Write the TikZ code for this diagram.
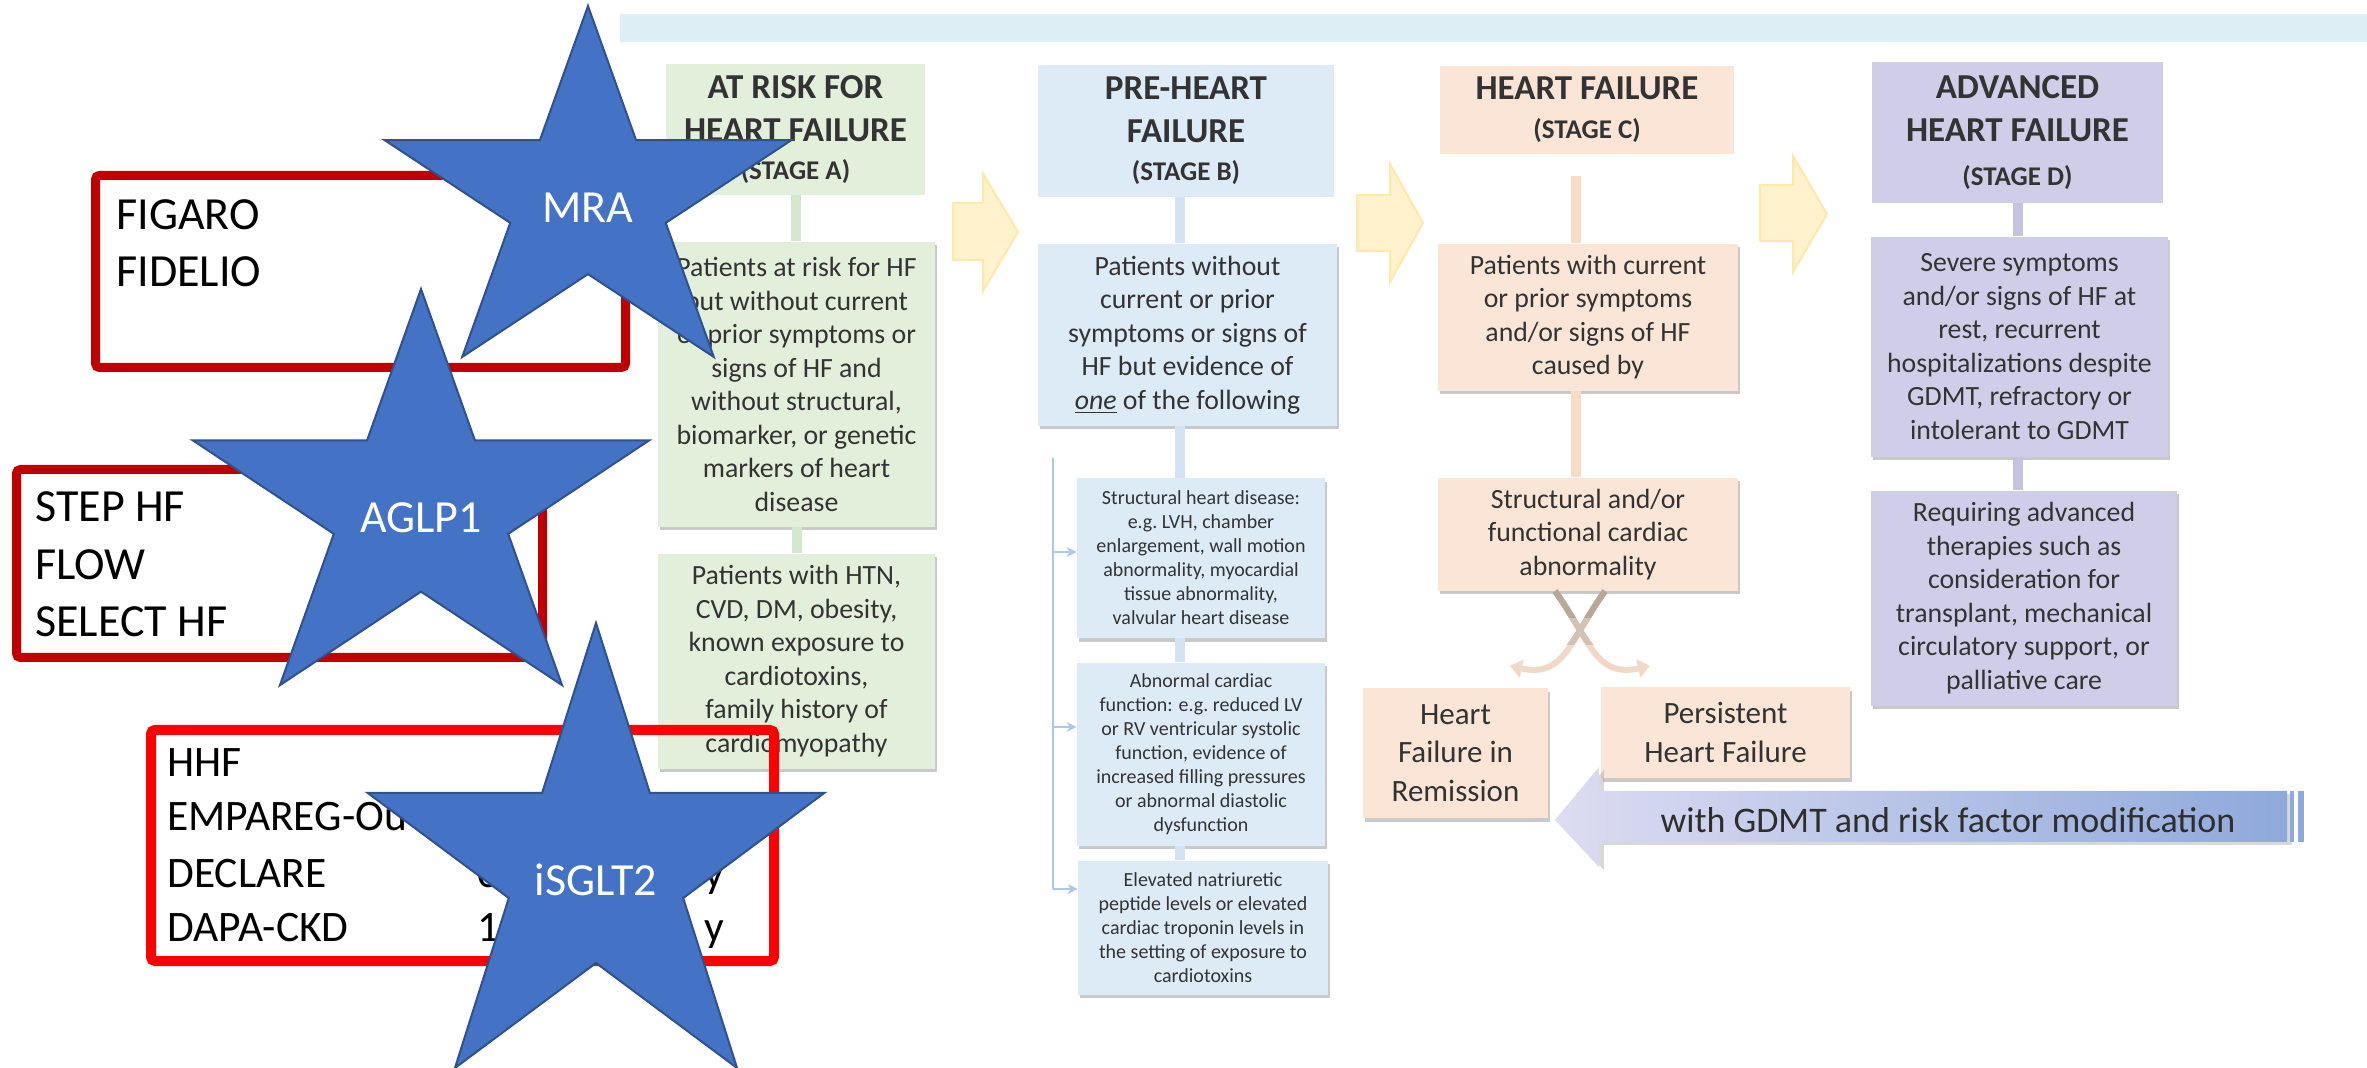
\documentclass[tikz,border=0pt]{standalone}
\usepackage{fontspec}
\setmainfont{Carlito}
\usepackage{tikz}
\usetikzlibrary{arrows.meta,positioning,shadows}

\definecolor{starfill}{HTML}{4472C4}
\definecolor{stardraw}{HTML}{2F528F}
\definecolor{darkred}{HTML}{C00000}
\definecolor{brightred}{HTML}{FF0000}
\definecolor{barcyan}{HTML}{DDEFF4}
\definecolor{greenA}{HTML}{E2EFDA}
\definecolor{blueB}{HTML}{DDEBF7}
\definecolor{peachC}{HTML}{FBE5D6}
\definecolor{lilacD}{HTML}{D0CDE9}
\definecolor{greenlink}{HTML}{D6E8CC}
\definecolor{bluelink}{HTML}{D2E4F4}
\definecolor{peachlink}{HTML}{F8DCC8}
\definecolor{lilaclink}{HTML}{C6C2E2}
\definecolor{railblue}{HTML}{ADC9EA}
\definecolor{yellowfill}{HTML}{FFF2CC}
\definecolor{yellowdraw}{HTML}{FFE9A8}
\definecolor{splitlight}{HTML}{F2D8C6}
\definecolor{splitmid}{HTML}{D4C1B1}
\definecolor{splitdark}{HTML}{B9A798}
\definecolor{gdmtpale}{HTML}{DDDCF1}
\definecolor{gdmtblue}{HTML}{8EA9DB}
\definecolor{bodygrey}{HTML}{333333}

\begin{document}
\begin{tikzpicture}[x=0.5pt,y=0.5pt,>=Stealth]
\tikzstyle{stagehead}=[rectangle,inner sep=0pt,align=flush center,text=bodygrey,font=\bfseries\fontsize{17.5}{21.5}\selectfont]
\tikzstyle{stagebox}=[rectangle,inner sep=0pt,align=flush center,text=bodygrey,font=\fontsize{13.9}{16.75}\selectfont,
  drop shadow={shadow xshift=1.2pt,shadow yshift=-1.8pt,opacity=0.35,fill=black!60}]
\tikzstyle{smallbox}=[stagebox,font=\fontsize{10}{12}\selectfont]
\tikzstyle{outcomebox}=[stagebox,font=\fontsize{15.5}{19.25}\selectfont]
\tikzstyle{stagelink}=[line width=5pt]
\tikzstyle{stagearrow}=[fill=yellowfill,draw=yellowdraw,line width=1pt]
\tikzstyle{rail}=[draw=railblue,line width=1pt]
\tikzstyle{railarrow}=[draw=railblue,line width=1pt,-{Stealth[length=5pt,width=5pt]}]
\tikzstyle{splitlink}=[line width=3pt]
\tikzstyle{gdmtarrow}=[left color=gdmtpale,right color=gdmtblue,drop shadow={shadow yshift=-1.5pt,opacity=0.3}]
\tikzstyle{gdmttext}=[inner sep=0pt,text=bodygrey!90!black,font=\fontsize{18}{22}\selectfont]
\tikzstyle{trialbox}=[rectangle,rounded corners=2pt,inner sep=0pt]
\tikzstyle{trialtext}=[anchor=base west,inner sep=0pt,font=\fontsize{23}{28}\selectfont]
\tikzstyle{hhftext}=[anchor=base west,inner sep=0pt,font=\fontsize{21.75}{27}\selectfont]
\tikzstyle{drugstar}=[fill=starfill,draw=stardraw,line width=1pt,line join=miter]
\tikzstyle{druglabel}=[anchor=base,inner sep=0pt,text=white,font=\fontsize{23}{28}\selectfont]

\useasboundingbox (0,0) rectangle (2367,-1068);
\fill[white] (0,0) rectangle (2367,-1068);

% top band
\fill[barcyan] (620,-14) rectangle (2367,-42);

% arrows between the stages
\draw[stagearrow] (953,-203) -- (983,-203) -- (983,-174) -- (1018,-232) -- (983,-291) -- (983,-260) -- (953,-260) -- cycle;
\draw[stagearrow] (1357,-195) -- (1390,-195) -- (1390,-164) -- (1423,-223) -- (1390,-282) -- (1390,-251) -- (1357,-251) -- cycle;
\draw[stagearrow] (1760,-185) -- (1793,-185) -- (1793,-156) -- (1827,-214) -- (1793,-272) -- (1793,-241) -- (1760,-241) -- cycle;

% stage A
\node[stagehead,fill=greenA,text width=129.5pt,minimum height=65.5pt] (hdrA) at (795.5,-129.5)
  {AT RISK FOR\\HEART FAILURE\\[-2.5pt]{\fontsize{13.5}{16}\selectfont (STAGE A)}};
\node[stagebox,fill=greenA,text width=138.5pt,minimum height=142.5pt,below=23pt of hdrA,xshift=0.5pt] (boxA1)
  {Patients at risk for HF\\but without current\\or prior symptoms or\\signs of HF and\\without structural,\\biomarker, or genetic\\markers of heart\\disease};
\node[stagebox,fill=greenA,text width=138.5pt,minimum height=107.5pt,below=13pt of boxA1] (boxA2)
  {Patients with HTN,\\CVD, DM, obesity,\\known exposure to\\cardiotoxins,\\family history of\\cardiomyopathy};
\draw[stagelink,greenlink] (hdrA.south) -- (hdrA.south |- boxA1.north);
\draw[stagelink,greenlink] (boxA1.south) -- (boxA1.south |- boxA2.north);

% stage B
\node[stagehead,fill=blueB,text width=148pt,minimum height=66pt] (hdrB) at (1186,-131)
  {PRE-HEART\\FAILURE\\[-2.5pt]{\fontsize{13.5}{16}\selectfont (STAGE B)}};
\node[stagebox,fill=blueB,text width=149.5pt,minimum height=91pt,below=23pt of hdrB,xshift=0.75pt] (boxB)
  {Patients without\\current or prior\\symptoms or signs of\\HF but evidence of\\\underline{\textit{one}} of the following};
\node[smallbox,fill=blueB,text width=124pt,minimum height=80pt] (subB1) at (1201,-558)
  {Structural heart disease:\\e.g.\ LVH, chamber\\enlargement, wall motion\\abnormality, myocardial\\tissue abnormality,\\valvular heart disease};
\node[smallbox,fill=blueB,text width=124pt,minimum height=91.5pt,below=12pt of subB1] (subB2)
  {Abnormal cardiac\\function: e.g.\ reduced LV\\or RV ventricular systolic\\function, evidence of\\increased filling pressures\\or abnormal diastolic\\dysfunction};
\node[smallbox,fill=blueB,text width=125pt,minimum height=67pt,below=7pt of subB2,xshift=1pt] (subB3)
  {Elevated natriuretic\\peptide levels or elevated\\cardiac troponin levels in\\the setting of exposure to\\cardiotoxins};
\coordinate (spineB) at (1180,0);
\draw[stagelink,bluelink] (spineB |- hdrB.south) -- (spineB |- boxB.north);
\draw[stagelink,bluelink] (spineB |- boxB.south) -- (spineB |- subB1.north);
\draw[stagelink,bluelink] (spineB |- subB1.south) -- (spineB |- subB2.north);
\draw[stagelink,bluelink] (spineB |- subB2.south) -- (spineB |- subB3.north);
\coordinate (railtop) at (1053,-458);
\coordinate (rail1) at (1053,-552);
\coordinate (rail2) at (1053,-727);
\coordinate (rail3) at (1053,-889);
\draw[rail] (railtop) -- (rail3);
\draw[railarrow] (rail1) -- (rail1 -| subB1.west);
\draw[railarrow] (rail2) -- (rail2 -| subB2.west);
\draw[railarrow] (rail3) -- (rail3 -| subB3.west);

% stage C
\node[stagehead,fill=peachC,text width=147pt,minimum height=44pt] (hdrC) at (1587,-110)
  {HEART FAILURE\\[-2pt]{\fontsize{13.5}{16}\selectfont (STAGE C)}};
\node[stagebox,fill=peachC,text width=150pt,minimum height=73.5pt,below=44.5pt of hdrC,xshift=0.5pt] (boxC1)
  {Patients with current\\or prior symptoms\\and/or signs of HF\\caused by};
\node[stagebox,fill=peachC,text width=150pt,minimum height=56.5pt,below=43pt of boxC1] (boxC2)
  {Structural and/or\\functional cardiac\\abnormality};
\node[outcomebox,fill=peachC,text width=92.5pt,minimum height=65pt] (remis) at (1455.5,-753)
  {Heart\\Failure in\\Remission};
\node[outcomebox,fill=peachC,text width=124.5pt,minimum height=45.5pt] (persist) at (1725.5,-732.5)
  {Persistent\\Heart Failure};
\coordinate (linkCtop) at (1576,-176);
\coordinate (spineC) at (1576,0);
\draw[stagelink,peachlink] (linkCtop) -- (spineC |- boxC1.north);
\draw[stagelink,peachlink] (spineC |- boxC1.south) -- (spineC |- boxC2.north);
% split into the two outcomes
\coordinate (remisTip) at (1510,-666);
\coordinate (persistTip) at (1650,-666);
\draw[splitlink,splitlight,-{Triangle[width=9pt,length=6pt]}] ([xshift=8.5pt]boxC2.south) .. controls (1570,-640) and (1565,-678) .. (remisTip);
\draw[splitlink,splitlight,-{Triangle[width=9pt,length=6pt]}] ([xshift=-16.5pt]boxC2.south) .. controls (1590,-640) and (1595,-678) .. (persistTip);
\begin{scope}
\clip (1500,-585) rectangle (1660,-645);
\draw[splitlink,splitmid] ([xshift=8.5pt]boxC2.south) .. controls (1570,-640) and (1565,-678) .. (remisTip);
\draw[splitlink,splitmid] ([xshift=-16.5pt]boxC2.south) .. controls (1590,-640) and (1595,-678) .. (persistTip);
\clip (1500,-585) rectangle (1660,-618);
\draw[splitlink,splitdark] ([xshift=8.5pt]boxC2.south) .. controls (1570,-640) and (1565,-678) .. (remisTip);
\draw[splitlink,splitdark] ([xshift=-16.5pt]boxC2.south) .. controls (1590,-640) and (1595,-678) .. (persistTip);
\end{scope}

% stage D
\node[stagehead,fill=lilacD,text width=145.5pt,minimum height=70.5pt] (hdrD) at (2017.5,-132.5)
  {ADVANCED\\HEART FAILURE\\[0.5pt]{\fontsize{13.5}{16}\selectfont (STAGE D)}};
\node[stagebox,fill=lilacD,text width=148.5pt,minimum height=110pt,below=16.5pt of hdrD,xshift=1pt] (boxD1)
  {Severe symptoms\\and/or signs of HF at\\rest, recurrent\\hospitalizations despite\\GDMT, refractory or\\intolerant to GDMT};
\node[stagebox,fill=lilacD,text width=153pt,minimum height=107.5pt,below=16.5pt of boxD1,xshift=2.25pt] (boxD2)
  {Requiring advanced\\therapies such as\\consideration for\\transplant, mechanical\\circulatory support, or\\palliative care};
\draw[stagelink,lilaclink] (hdrD.south) -- (hdrD.south |- boxD1.north);
\draw[stagelink,lilaclink] (hdrD.south |- boxD1.south) -- (hdrD.south |- boxD2.north);

% back arrow with GDMT (striped tail)
\path[gdmtarrow] (1555,-820) -- (1599,-767) -- (1599,-791) -- (2287,-791) -- (2287,-842) -- (1599,-842) -- (1599,-867) -- cycle;
\fill[gdmtblue] (2290,-791) rectangle (2294,-842);
\fill[gdmtblue] (2298,-791) rectangle (2304,-842);
\node[gdmttext] (gdmt) at (1948,-820) {with GDMT and risk factor modification};

% trial boxes
\node[trialbox,draw=darkred,line width=4.5pt,minimum width=265pt,minimum height=96pt] (figbox) at (360.5,-271.5) {};
\node[trialbox,draw=darkred,line width=4.5pt,minimum width=263pt,minimum height=94pt] (stepbox) at (279.5,-563.5) {};
\node[trialbox,draw=brightred,line width=5pt,minimum width=311.5pt,minimum height=115.5pt] (hhfbox) at (462.5,-845.5) {};
\node[trialtext] (figaro) at (116,-230) {FIGARO};
\node[trialtext] (fidelio) at (116,-287) {FIDELIO};
\node[trialtext] (stephf) at (35,-522) {STEP HF};
\node[trialtext] (flow) at (35,-580) {FLOW};
\node[trialtext] (selecthf) at (35,-637) {SELECT HF};
\node[hhftext] (hhf) at (167,-777) {HHF};
\node[hhftext] (empareg) at (167,-831) {EMPAREG-Ou};
\node[hhftext] (declare) at (167,-887) {DECLARE};
\node[hhftext] (dapa) at (167,-941) {DAPA-CKD};
\node[hhftext] (declareval) at (477,-887) {0};
\node[hhftext] (dapaval) at (477,-941) {1};
\node[hhftext] (declareunit) at (704,-887) {y};
\node[hhftext] (dapaunit) at (704,-941) {y};

% drug stars
\draw[drugstar] plot[samples at={0,...,9},variable=\k]
  ({588+(1-0.618*mod(\k,2))*214*cos(90+36*\k)},{-200+(1-0.618*mod(\k,2))*194*sin(90+36*\k)}) -- cycle;
\node[druglabel] (mra) at (588,-223) {MRA};
\draw[drugstar] plot[samples at={0,...,9},variable=\k]
  ({421+(1-0.618*mod(\k,2))*240*cos(90+36*\k)},{-508+(1-0.618*mod(\k,2))*219*sin(90+36*\k)}) -- cycle;
\node[druglabel] (aglp) at (421,-533) {AGLP1};
\draw[drugstar] plot[samples at={0,...,9},variable=\k]
  ({596+(1-0.618*mod(\k,2))*240*cos(90+36*\k)},{-869+(1-0.618*mod(\k,2))*246*sin(90+36*\k)}) -- cycle;
\node[druglabel] (sglt) at (596,-895) {iSGLT2};
\end{tikzpicture}
\end{document}
